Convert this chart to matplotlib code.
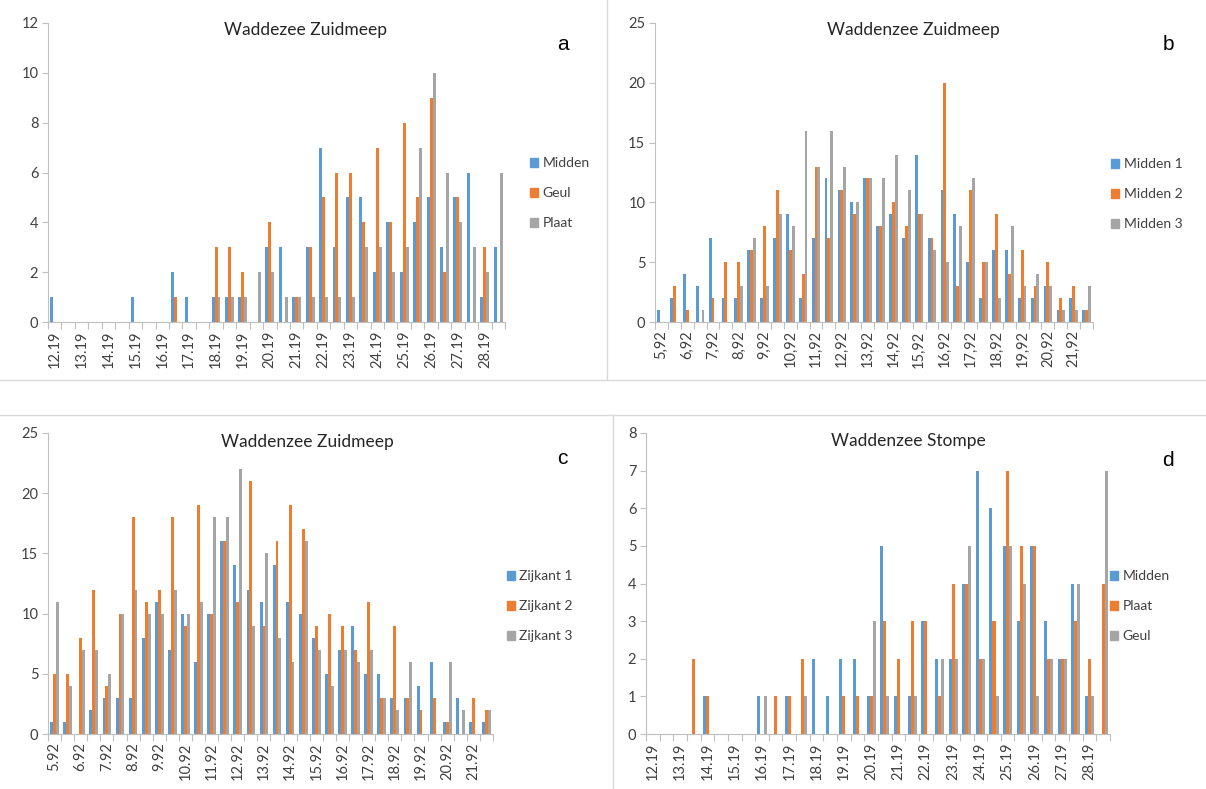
import numpy as np
import matplotlib
matplotlib.use("Agg")
import matplotlib.pyplot as plt
from matplotlib.lines import Line2D
from matplotlib.patches import Patch

plt.rcParams['font.family'] = ['Lato', 'DejaVu Sans']

# --- data -------------------------------------------------------------
ticks_19 = ["12.19", "13.19", "14.19", "15.19", "16.19", "17.19", "18.19", "19.19",
            "20.19", "21.19", "22.19", "23.19", "24.19", "25.19", "26.19", "27.19", "28.19"]
ticks_92 = ["5.92", "6.92", "7.92", "8.92", "9.92", "10.92", "11.92", "12.92",
            "13.92", "14.92", "15.92", "16.92", "17.92", "18.92", "19.92", "20.92", "21.92"]
ticks_92c = [t.replace(".", ",") for t in ticks_92]

# a: Waddezee Zuidmeep
a_midden = [1,0,0,0,0,0,1,0,0,2,1,0,1,1,1,0,3,3,1,3,7,3,5,5,2,4,2,4,5,3,5,6,1,3]
a_geul   = [0,0,0,0,0,0,0,0,0,1,0,0,3,3,2,0,4,0,1,3,5,6,6,4,7,4,8,5,9,2,5,0,3,0]
a_plaat  = [0,0,0,0,0,0,0,0,0,0,0,0,1,1,1,2,2,1,1,1,1,1,1,3,3,2,3,7,10,6,4,3,2,6]

# b: Waddenzee Zuidmeep (midden)
b_m1 = [1,2,4,3,7,2,2,6,2,7,9,2,7,12,11,10,12,8,9,7,14,7,11,9,5,2,6,6,2,2,3,1,2,1]
b_m2 = [0,3,1,0,2,5,5,6,8,11,6,4,13,7,11,9,12,8,10,8,9,7,20,3,11,5,9,4,6,3,5,2,3,1]
b_m3 = [0,0,0,1,0,0,3,7,3,9,8,16,13,16,13,10,12,12,14,11,9,6,5,8,12,5,2,8,3,4,3,1,1,3]

# c: Waddenzee Zuidmeep (zijkant)
c_z1 = [1,1,0,2,3,3,3,8,11,7,10,6,10,16,14,12,11,14,11,10,8,5,7,9,5,5,3,3,4,6,1,3,1,1]
c_z2 = [5,5,8,12,4,10,18,11,12,18,9,19,10,16,11,21,9,16,19,17,9,10,9,7,11,3,9,3,2,3,1,0,3,2]
c_z3 = [11,4,7,7,5,10,12,10,10,12,10,11,18,18,22,9,15,8,6,16,7,4,7,6,7,3,2,6,0,0,6,2,0,2]

# d: Waddenzee Stompe
d_midden = [0,0,0,0,1,0,0,0,1,0,1,0,2,1,2,2,1,5,1,1,3,2,2,4,7,6,5,3,5,3,2,4,1,0]
d_plaat  = [0,0,0,2,1,0,0,0,0,1,1,2,0,0,1,1,1,3,2,3,3,1,4,4,2,3,7,5,5,2,2,3,2,4]
d_geul   = [0,0,0,0,0,0,0,0,1,0,0,1,0,0,0,0,3,1,0,1,0,2,2,5,2,1,5,4,1,2,2,4,1,7]

colors = ["#5B9BD5", "#ED7D31", "#A5A5A5"]
W, H = 1206, 789

fig = plt.figure(figsize=(W / 100, H / 100), dpi=100)


def px_axes(l, t, r, b):
    return fig.add_axes([l / W, 1 - b / H, (r - l) / W, (b - t) / H])


def panel(box, series, names, ticks, ymax, ystep, title, tpos, letter, lpos, legpos):
    ax = px_axes(*box)
    n = len(series[0])
    x = np.arange(n)
    w = 1 / 4.5
    for i, (vals, c) in enumerate(zip(series, colors)):
        ax.bar(x + (i - 1) * w, vals, width=w, color=c, linewidth=0)
    ax.set_xlim(-0.5, n - 0.5)
    ax.set_ylim(0, ymax)
    ax.set_yticks(np.arange(0, ymax + 0.1, ystep))
    ax.set_xticks(np.arange(-0.5, n, 1))
    ax.set_xticklabels([])
    ax.set_xticks(x[::2], minor=True)
    ax.set_xticklabels(ticks, minor=True, rotation=90, fontsize=10.5, color="#404040")
    ax.tick_params(axis="x", which="major", length=5, color="#BFBFBF")
    ax.tick_params(axis="x", which="minor", length=0, pad=6)
    ax.tick_params(axis="y", length=4, color="#BFBFBF", labelcolor="#404040",
                   labelsize=10.5, pad=3)
    for s in ["top", "right"]:
        ax.spines[s].set_visible(False)
    ax.spines["left"].set_color("#BFBFBF")
    ax.spines["bottom"].set_color("#BFBFBF")
    fig.text(tpos[0] / W, 1 - tpos[1] / H, title, ha="center", va="center",
             fontsize=12.5, color="#262626")
    fig.text(lpos[0] / W, 1 - lpos[1] / H, letter, ha="center", va="center",
             fontsize=15, family="Liberation Sans")
    handles = [Patch(color=c) for c in colors]
    fig.legend(handles, names, loc="upper left",
               bbox_to_anchor=(legpos[0] / W, 1 - legpos[1] / H),
               bbox_transform=fig.transFigure, frameon=False, fontsize=10,
               handlelength=0.6, handleheight=0.6, handletextpad=0.3,
               labelspacing=1.3, borderpad=0, borderaxespad=0,
               labelcolor="#404040")
    return ax


panel((48, 23, 505, 322), [a_midden, a_geul, a_plaat], ["Midden", "Geul", "Plaat"],
      ticks_19, 12, 2, "Waddezee Zuidmeep", (305, 30), "a", (563, 45), (530, 157))
panel((655, 23, 1093, 322), [b_m1, b_m2, b_m3], ["Midden 1", "Midden 2", "Midden 3"],
      ticks_92c, 25, 5, "Waddenzee Zuidmeep", (913, 30), "b", (1168, 45), (1111, 158))
panel((48, 433, 493, 734), [c_z1, c_z2, c_z3], ["Zijkant 1", "Zijkant 2", "Zijkant 3"],
      ticks_92, 25, 5, "Waddenzee Zuidmeep", (307, 442), "c", (562, 459), (507, 570))
panel((646, 433, 1110, 734), [d_midden, d_plaat, d_geul], ["Midden", "Plaat", "Geul"],
      ticks_19, 8, 1, "Waddenzee Stompe", (908, 441), "d", (1168, 461), (1110, 570))

# chart area borders
for xs, ys in [((0, W), (380, 380)), ((607, 607), (0, 380)),
               ((0, W), (415, 415)), ((613, 613), (415, H))]:
    fig.add_artist(Line2D([v / W for v in xs], [1 - v / H for v in ys],
                          color="#D9D9D9", linewidth=1))

fig.savefig("out.png", dpi=100)
